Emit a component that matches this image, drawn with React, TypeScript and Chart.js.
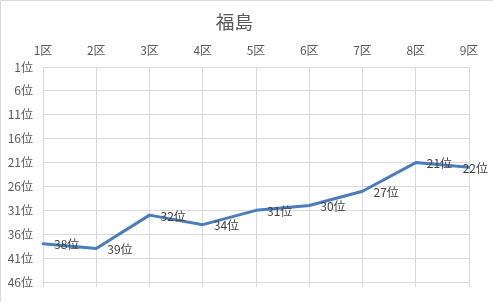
import React, { useEffect, useRef } from "react";
import { Chart, registerables } from "chart.js";

Chart.register(...registerables);

const title = "福島";
const districts = ["1区", "2区", "3区", "4区", "5区", "6区", "7区", "8区", "9区"];
const ranks = [38, 39, 32, 34, 31, 30, 27, 21, 22];
const rankTicks = [1, 6, 11, 16, 21, 26, 31, 36, 41, 46];
const suffix = "位";

const FONT = "'Noto Sans CJK JP', 'Noto Sans', sans-serif";

const frame = {
  id: "frame",
  beforeDraw(chart: any) {
    const { ctx, width, height } = chart;
    ctx.save();
    ctx.fillStyle = "#ffffff";
    ctx.fillRect(0, 0, width, height);
    ctx.strokeStyle = "#d9d9d9";
    ctx.lineWidth = 1;
    ctx.beginPath();
    ctx.moveTo(0.5, height);
    ctx.lineTo(0.5, 0.5);
    ctx.lineTo(width, 0.5);
    ctx.stroke();
    ctx.restore();
  },
};

const pointLabels = {
  id: "pointLabels",
  afterDatasetsDraw(chart: any) {
    const { ctx, width } = chart;
    const meta = chart.getDatasetMeta(0);
    const data = chart.data.datasets[0].data as number[];
    ctx.save();
    ctx.font = `12px ${FONT}`;
    ctx.fillStyle = "#404040";
    ctx.textAlign = "left";
    ctx.textBaseline = "middle";
    meta.data.forEach((pt: any, i: number) => {
      const text = `${data[i]}${suffix}`;
      const w = ctx.measureText(text).width;
      const x = Math.min(pt.x + 11, width - 5 - w);
      ctx.fillText(text, x, pt.y + 1);
    });
    ctx.restore();
  },
};

export default function App() {
  const ref = useRef<HTMLCanvasElement>(null);

  useEffect(() => {
    document.body.style.margin = "0";
    document.body.style.overflow = "hidden";
    const canvas = ref.current!;
    const chart = new Chart(canvas, {
      type: "line",
      data: {
        labels: districts,
        datasets: [
          {
            data: ranks,
            borderColor: "#4a7ebb",
            borderWidth: 3,
            pointRadius: 0,
            tension: 0,
            borderCapStyle: "round",
            borderJoinStyle: "round",
            xAxisID: "x",
            yAxisID: "y",
          },
        ],
      },
      options: {
        responsive: false,
        animation: false,
        events: [],
        layout: { padding: { left: 0, right: 24, top: 0, bottom: 0 } },
        plugins: {
          legend: { display: false },
          tooltip: { enabled: false },
          title: {
            display: true,
            text: title,
            color: "#595959",
            font: { family: FONT, size: 18.67, weight: "normal", lineHeight: 1.2 },
            padding: { top: 11, bottom: 8 },
          },
        },
        scales: {
          x: {
            type: "category",
            position: "top",
            offset: false,
            grid: { color: "#d9d9d9", drawTicks: false, lineWidth: 1 },
            border: { display: false },
            ticks: {
              color: "#595959",
              font: { family: FONT, size: 12 },
              padding: 9,
              maxRotation: 0,
              autoSkip: false,
            },
            afterFit(scale: any) {
              scale.height = 25.6;
            },
          },
          x2: {
            type: "category",
            position: "bottom",
            offset: false,
            labels: districts,
            grid: {
              color: "#d9d9d9",
              drawOnChartArea: false,
              drawTicks: true,
              tickLength: 5,
            },
            border: { display: false },
            ticks: { display: false },
            afterFit(scale: any) {
              scale.height = 20;
            },
          },
          y: {
            type: "linear",
            reverse: true,
            min: 1,
            max: 46,
            grid: { color: "#d9d9d9", drawTicks: false, lineWidth: 1 },
            border: { display: false },
            afterBuildTicks(scale: any) {
              scale.ticks = rankTicks.map((v) => ({ value: v }));
            },
            ticks: {
              color: "#595959",
              font: { family: FONT, size: 12 },
              padding: 10,
              callback: (v: any) => `${v}${suffix}`,
            },
            afterFit(scale: any) {
              scale.width = 43;
            },
          },
        },
      },
      plugins: [frame, pointLabels],
    } as any);
    return () => chart.destroy();
  }, []);

  return (
    <div style={{ width: 493, height: 302, overflow: "hidden" }}>
      <canvas ref={ref} width={493} height={302} style={{ display: "block" }} />
    </div>
  );
}
